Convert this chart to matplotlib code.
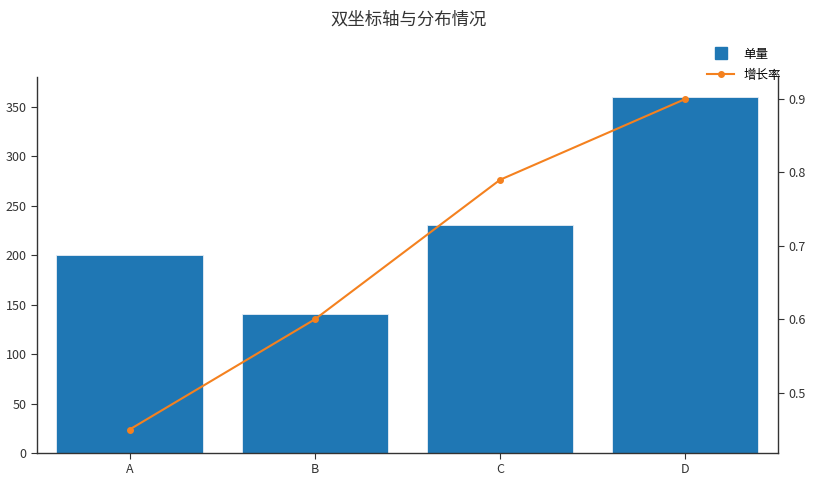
import matplotlib
matplotlib.use('Agg')
import matplotlib.pyplot as plt
from matplotlib.lines import Line2D

plt.rcParams['font.family'] = ['Noto Sans CJK SC', 'DejaVu Sans']
plt.rcParams['font.size'] = 9

# 資料
categories = ['A', 'B', 'C', 'D']
amount = [200, 140, 230, 360]        # 单量
growth = [0.45, 0.60, 0.79, 0.90]    # 增长率

barColor = '#1f77b4'
lineColor = '#f4811f'
textColor = '#333333'

fig = plt.figure(figsize=(8.18, 4.84), dpi=100)
ax = fig.add_axes([0.0452, 0.064, 0.9058, 0.777])

x = range(len(categories))
ax.bar(x, amount, width=0.79, color=barColor, edgecolor='#e8eef5', linewidth=0.6, zorder=2)
ax.set_xlim(-0.5, 3.5)
ax.set_ylim(0, 380)
ax.set_xticks(list(x))
ax.set_xticklabels(categories)
ax.set_yticks(range(0, 351, 50))

ax2 = ax.twinx()
ax2.plot(x, growth, '-o', color=lineColor, linewidth=1.5, markersize=4, zorder=3)
ax2.set_ylim(0.418, 0.93)
ax2.set_yticks([0.5, 0.6, 0.7, 0.8, 0.9])

# Axis style
for a in (ax, ax2):
    a.spines['top'].set_visible(False)
    for s in a.spines.values():
        s.set_color('#333333')
        s.set_linewidth(1)
    a.tick_params(colors=textColor, labelcolor=textColor, length=4, width=0.8, labelsize=9)
ax.spines['right'].set_visible(False)
ax2.spines['left'].set_visible(False)
ax2.spines['bottom'].set_visible(False)

# 圖例
handles = [
    Line2D([], [], linestyle='none', marker='s', markersize=8, color=barColor),
    Line2D([], [], color=lineColor, marker='o', markersize=4, linewidth=1.5),
]
fig.legend(handles, ['单量', '增长率'], loc='upper left', bbox_to_anchor=(0.858, 0.912),
           frameon=False, fontsize=9, handlelength=2.2, handletextpad=0.7,
           labelspacing=0.65, borderaxespad=0)

fig.suptitle('双坐标轴与分布情况', x=0.499, y=0.978, fontsize=12.5, color=textColor)

fig.savefig('out.png', dpi=100)
